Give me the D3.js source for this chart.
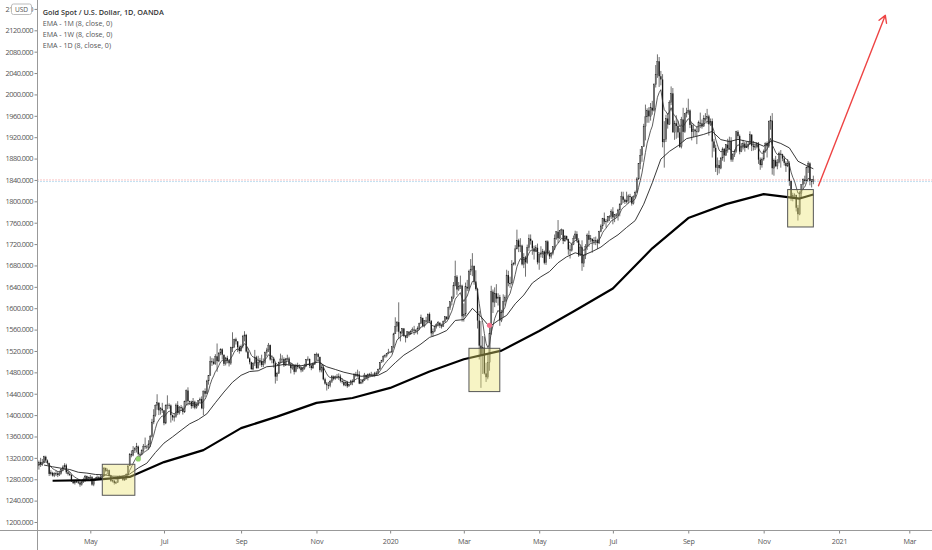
<!DOCTYPE html>
<html>
<head>
<meta charset="utf-8">
<script src="https://cdn.jsdelivr.net/npm/d3@7"></script>
<style>
  html, body { margin: 0; padding: 0; background: #fff; }
  svg { display: block; font-family: "Open Sans", sans-serif; }
</style>
</head>
<body>
<div id="chart"></div>
<script>
// daily XAUUSD candles, one value per weekday starting 2019-03-19
const startDate = "2019-03-19";
const axisEndDate = "2021-03-31";

const opens = [
  1302,1306,1312,1308, 1312,1322,1315,1310,1290,
  1292,1287,1291,1291,1288, 1291,1298,1303,1306,1293,
  1290,1288,1276,1273,1276, 1275,1274,1270,1275,1280,
  1286,1280,1283,1284,1270, 1280,1281,1284,1281,1284,
  1286,1301,1296,1297,1286, 1277,1277,1273,1274,1283,
  1284,1285,1279,1280,1289, 1305,1327,1325,1334,1337,
  1341,1327,1326,1334,1342, 1341,1340,1346,1360,1387,
  1400,1418,1423,1409,1412, 1409,1385,1418,1419,1418,
  1400,1396,1397,1419,1404, 1415,1413,1406,1426,1446,
  1426,1425,1417,1425,1414, 1419,1427,1430,1413,1445,
  1440,1464,1474,1500,1500, 1496,1510,1501,1516,1523,
  1513,1496,1507,1502,1497, 1526,1527,1542,1538,1527,
  1520,1529,1547,1550,1519, 1506,1499,1486,1497,1508,
  1488,1498,1501,1494,1498, 1517,1522,1531,1504,1505,
  1497,1472,1478,1499,1505, 1505,1493,1505,1506,1495,
  1488,1493,1481,1492,1490, 1489,1484,1487,1492,1504,
  1505,1492,1488,1495,1513, 1514,1509,1484,1490,1467,
  1459,1456,1455,1463,1472, 1468,1472,1471,1472,1464,
  1462,1456,1462,1454,1457, 1464,1462,1477,1474,1476,
  1459,1462,1465,1475,1470, 1476,1476,1476,1475,1479,
  1478,1486,1499,1503,1510, 1511,1515,1517,1518,1528,
  1552,1566,1574,1556,1553, 1562,1548,1545,1556,1552,
  1557,1560,1558,1558,1562, 1571,1582,1567,1577,1575,
  1589,1576,1553,1557,1566, 1570,1573,1568,1566,1575,
  1584,1580,1601,1612,1620, 1643,1659,1635,1640,1642,
  1585,1589,1640,1637,1669, 1673,1679,1650,1636,1577,
  1530,1512,1526,1478,1471, 1499,1553,1631,1611,1628,
  1618,1621,1577,1592,1612, 1620,1662,1647,1647,1682,
  1684,1711,1727,1715,1717, 1682,1695,1686,1713,1730,
  1726,1712,1706,1713,1686, 1700,1702,1706,1685,1725,
  1702,1697,1702,1715,1731, 1743,1731,1745,1747,1726,
  1735,1729,1710,1708,1719, 1730,1739,1727,1699,1714,
  1684,1698,1715,1737,1728, 1730,1725,1727,1727,1722,
  1743,1754,1768,1762,1763, 1771,1772,1781,1770,1775,
  1774,1784,1795,1809,1803, 1799,1802,1810,1808,1796,
  1809,1817,1842,1871,1886, 1902,1940,1958,1970,1959,
  1975,1970,2018,2037,2062, 2034,2028,1911,1916,1955,
  1944,1985,2002,1929,1946, 1941,1929,1902,1953,1930,
  1964,1967,1970,1943,1930, 1934,1931,1930,1947,1946,
  1940,1955,1955,1959,1944, 1950,1912,1900,1863,1868,
  1862,1881,1898,1886,1906, 1899,1913,1878,1887,1894,
  1930,1922,1893,1901,1908, 1900,1903,1907,1925,1904,
  1902,1902,1908,1878,1868, 1879,1894,1909,1903,1949,
  1951,1862,1877,1866,1873, 1889,1888,1880,1872,1866,
  1871,1838,1806,1811,1812, 1788,1776,1815,1831,1841,
  1838,1863,1871,1838,1837
];

const highs = [
  1310,1315,1320,1318, 1324,1324,1317,1311,1297,
  1294,1293,1296,1295,1296, 1301,1306,1310,1309,1297,
  1293,1289,1278,1278,1277, 1277,1276,1277,1283,1288,
  1287,1285,1288,1286,1282, 1284,1287,1286,1288,1288,
  1303,1302,1300,1298,1288, 1279,1279,1277,1286,1287,
  1287,1287,1283,1291,1306, 1329,1334,1342,1340,1348,
  1343,1330,1336,1346,1358, 1344,1353,1363,1393,1411,
  1420,1439,1424,1415,1423, 1409,1420,1437,1422,1420,
  1401,1403,1422,1426,1417, 1419,1416,1427,1448,1452,
  1427,1427,1432,1427,1424, 1428,1433,1435,1446,1450,
  1466,1475,1510,1507,1506, 1514,1534,1518,1525,1525,
  1513,1509,1511,1505,1528, 1555,1543,1545,1538,1530,
  1532,1550,1557,1552,1526, 1508,1500,1499,1522,1511,
  1511,1507,1513,1506,1519, 1526,1535,1532,1512,1509,
  1498,1481,1500,1515,1512, 1508,1507,1513,1509,1499,
  1496,1495,1496,1498,1495, 1490,1489,1496,1505,1510,
  1506,1496,1499,1515,1517, 1516,1509,1494,1494,1470,
  1462,1462,1466,1475,1474, 1474,1477,1478,1476,1469,
  1466,1463,1464,1459,1466, 1467,1478,1481,1485,1482,
  1465,1467,1479,1476,1478, 1479,1481,1478,1481,1482,
  1487,1499,1503,1512,1514, 1516,1524,1520,1529,1554,
  1583,1576,1611,1557,1563, 1563,1550,1557,1557,1559,
  1564,1567,1561,1566,1573, 1588,1582,1578,1584,1590,
  1592,1578,1562,1567,1572, 1576,1573,1571,1577,1585,
  1585,1603,1612,1623,1649, 1689,1662,1649,1661,1644,
  1609,1648,1653,1672,1692, 1703,1680,1671,1638,1595,
  1576,1548,1547,1498,1515, 1567,1642,1635,1639,1645,
  1628,1625,1597,1626,1624, 1672,1670,1659,1690,1686,
  1718,1747,1730,1731,1719, 1703,1698,1719,1738,1738,
  1727,1717,1718,1721,1702, 1716,1711,1708,1727,1727,
  1708,1705,1716,1738,1744, 1765,1746,1749,1747,1737,
  1736,1730,1719,1721,1736, 1745,1744,1731,1717,1727,
  1700,1720,1740,1745,1737, 1730,1733,1734,1730,1745,
  1757,1769,1779,1767,1772, 1774,1785,1789,1776,1778,
  1786,1796,1818,1818,1805, 1818,1813,1814,1809,1811,
  1820,1845,1871,1898,1903, 1945,1981,1974,1976,1984,
  1988,2021,2055,2075,2070, 2044,2038,1950,1962,1965,
  1989,2015,2012,1951,1961, 1951,1937,1958,1975,1965,
  1975,1992,1972,1947,1945, 1936,1941,1951,1966,1953,
  1961,1965,1973,1962,1955, 1955,1917,1906,1882,1877,
  1883,1901,1900,1907,1917, 1921,1920,1890,1897,1932,
  1933,1925,1909,1915,1911, 1912,1911,1931,1918,1913,
  1910,1911,1911,1882,1882, 1897,1910,1912,1951,1960,
  1965,1880,1885,1879,1893, 1896,1889,1885,1875,1879,
  1875,1839,1816,1815,1812, 1793,1819,1832,1843,1848,
  1865,1875,1873,1841,1848
];

const lows = [
  1301,1298,1303,1305, 1310,1313,1307,1286,1287,
  1285,1284,1286,1284,1286, 1289,1295,1301,1290,1287,
  1286,1275,1271,1270,1273, 1271,1266,1268,1273,1275,
  1278,1279,1280,1268,1267, 1277,1279,1279,1280,1282,
  1285,1293,1292,1285,1275, 1274,1270,1271,1273,1280,
  1282,1277,1277,1279,1287, 1305,1321,1323,1329,1330,
  1324,1320,1325,1330,1337, 1336,1335,1340,1358,1383,
  1397,1410,1400,1401,1404, 1381,1383,1411,1412,1386,
  1390,1388,1395,1400,1401, 1408,1401,1404,1418,1418,
  1419,1412,1413,1411,1412, 1417,1423,1411,1400,1434,
  1440,1457,1474,1492,1494, 1494,1481,1499,1512,1504,
  1492,1493,1497,1491,1494, 1518,1527,1532,1518,1515,
  1519,1525,1538,1517,1506, 1495,1485,1484,1492,1487,
  1488,1493,1490,1490,1495, 1510,1518,1502,1497,1489,
  1459,1464,1477,1497,1499, 1490,1492,1502,1492,1478,
  1485,1476,1480,1486,1486, 1480,1481,1485,1490,1501,
  1488,1484,1487,1494,1502, 1503,1480,1480,1465,1457,
  1446,1449,1452,1460,1465, 1466,1468,1466,1461,1459,
  1454,1454,1451,1454,1456, 1456,1461,1471,1471,1458,
  1458,1459,1464,1467,1465, 1472,1474,1472,1471,1474,
  1477,1485,1498,1499,1507, 1508,1514,1516,1516,1525,
  1552,1556,1542,1538,1549, 1546,1536,1544,1547,1550,
  1556,1550,1553,1551,1559, 1571,1565,1564,1571,1572,
  1572,1548,1547,1555,1562, 1566,1563,1562,1565,1573,
  1578,1579,1597,1605,1617, 1641,1625,1632,1636,1575,
  1575,1585,1632,1632,1662, 1660,1644,1633,1562,1504,
  1451,1477,1476,1462,1467, 1483,1550,1591,1602,1610,
  1605,1567,1574,1583,1605, 1613,1641,1638,1644,1680,
  1680,1710,1705,1705,1680, 1675,1659,1683,1707,1719,
  1700,1691,1705,1682,1672, 1695,1694,1682,1681,1699,
  1692,1693,1699,1709,1728, 1722,1729,1737,1720,1724,
  1727,1700,1693,1706,1718, 1729,1723,1696,1698,1670,
  1677,1692,1709,1715,1723, 1704,1719,1718,1711,1720,
  1742,1748,1757,1751,1760, 1763,1767,1757,1761,1769,
  1764,1772,1793,1797,1795, 1796,1796,1800,1792,1794,
  1806,1816,1840,1860,1874, 1902,1914,1947,1947,1951,
  1962,1968,2013,2031,2014, 2017,1901,1863,1911,1936,
  1943,1980,1929,1915,1917, 1919,1900,1899,1912,1928,
  1957,1962,1937,1914,1920, 1922,1907,1929,1937,1936,
  1940,1949,1945,1923,1941, 1882,1893,1855,1849,1852,
  1860,1876,1874,1885,1891, 1896,1874,1874,1883,1891,
  1917,1888,1892,1897,1893, 1900,1897,1906,1894,1895,
  1896,1899,1870,1859,1863, 1876,1891,1882,1900,1934,
  1850,1848,1864,1860,1871, 1863,1875,1867,1855,1864,
  1829,1801,1800,1808,1781, 1764,1774,1807,1822,1832,
  1838,1853,1830,1826,1832
];

const closes = [
  1306,1312,1308,1312, 1322,1315,1310,1290,1292,
  1287,1291,1291,1288,1291, 1298,1303,1306,1293,1290,
  1288,1276,1273,1276,1275, 1274,1270,1275,1280,1286,
  1280,1283,1284,1270,1280, 1281,1284,1281,1284,1286,
  1301,1296,1297,1286,1277, 1277,1273,1274,1283,1284,
  1285,1279,1280,1289,1305, 1327,1325,1334,1337,1341,
  1327,1326,1334,1342,1341, 1340,1346,1360,1387,1400,
  1418,1423,1409,1412,1409, 1385,1418,1419,1418,1400,
  1396,1397,1419,1404,1415, 1413,1406,1426,1446,1426,
  1425,1417,1425,1414,1419, 1427,1430,1413,1445,1440,
  1464,1474,1500,1500,1496, 1510,1501,1516,1523,1513,
  1496,1507,1502,1497,1526, 1527,1542,1538,1527,1520,
  1529,1547,1550,1519,1506, 1499,1486,1497,1508,1488,
  1498,1501,1494,1498,1517, 1522,1531,1504,1505,1497,
  1472,1478,1499,1505,1505, 1493,1505,1506,1495,1488,
  1493,1481,1492,1490,1489, 1484,1487,1492,1504,1505,
  1492,1488,1495,1513,1514, 1509,1484,1490,1467,1459,
  1456,1455,1463,1472,1468, 1472,1471,1472,1464,1462,
  1456,1462,1454,1457,1464, 1462,1477,1474,1476,1459,
  1462,1465,1475,1470,1476, 1476,1476,1475,1479,1478,
  1486,1499,1503,1510,1511, 1515,1517,1518,1528,1552,
  1566,1574,1556,1553,1562, 1548,1545,1556,1552,1557,
  1560,1558,1558,1562,1571, 1582,1567,1577,1575,1589,
  1576,1553,1557,1566,1570, 1573,1568,1566,1575,1584,
  1580,1601,1612,1620,1643, 1659,1635,1640,1642,1585,
  1589,1640,1637,1669,1673, 1679,1650,1636,1577,1530,
  1512,1526,1478,1471,1499, 1553,1631,1611,1628,1618,
  1621,1577,1592,1612,1620, 1662,1647,1647,1682,1684,
  1711,1727,1715,1717,1682, 1695,1686,1713,1730,1726,
  1712,1706,1713,1686,1700, 1702,1706,1685,1725,1702,
  1697,1702,1715,1731,1743, 1731,1745,1747,1726,1735,
  1729,1710,1708,1719,1730, 1739,1727,1699,1714,1684,
  1698,1715,1737,1728,1730, 1725,1727,1727,1722,1743,
  1754,1768,1762,1763,1771, 1772,1781,1770,1775,1774,
  1784,1795,1809,1803,1799, 1802,1810,1808,1796,1809,
  1817,1842,1871,1886,1902, 1940,1958,1970,1959,1975,
  1970,2018,2037,2062,2034, 2028,1911,1916,1955,1944,
  1985,2002,1929,1946,1941, 1929,1902,1953,1930,1964,
  1967,1970,1943,1930,1934, 1931,1930,1947,1946,1940,
  1955,1955,1959,1944,1950, 1912,1900,1863,1868,1862,
  1881,1898,1886,1906,1899, 1913,1878,1887,1894,1930,
  1922,1893,1901,1908,1900, 1903,1907,1925,1904,1902,
  1902,1908,1878,1868,1879, 1894,1909,1903,1949,1951,
  1862,1877,1866,1873,1889, 1888,1880,1872,1866,1871,
  1838,1806,1811,1812,1788, 1776,1815,1831,1841,1838,
  1863,1871,1838,1837,1840
];

// EMA settings and the values carried in from before the first bar
const emaLength = 8;
const seedWeekly = 1305;
const seedMonthly = 1273;

const priceTicks = [1200,1240,1280,1320,1360,1400,1440,1480,1520,1560,1600,1640,
                    1680,1720,1760,1800,1840,1880,1920,1960,2000,2040,2080,2120,2160];

const legendTitle = "Gold Spot / U.S. Dollar, 1D, OANDA";
const legendLines = ["EMA - 1M (8, close, 0)", "EMA - 1W (8, close, 0)", "EMA - 1D (8, close, 0)"];

// drawings on the chart
const boxStart  = ["2019-05-10", "2020-03-05", "2020-11-20"];
const boxEnd    = ["2019-06-06", "2020-03-31", "2020-12-11"];
const boxTop    = [1308, 1525, 1822];
const boxBottom = [1250, 1444, 1752];

const markerDates  = ["2019-06-10", "2020-03-23"];
const markerValues = [1318, 1568];
const markerColors = ["#8fd46a", "#f2708a"];

const arrowDates  = ["2020-12-16", "2021-02-09"];
const arrowValues = [1829, 2148];

const width = 932, height = 550;
const plotLeft = 37.5, axisY = 530.5;

const parse = d3.timeParse("%Y-%m-%d");
const key = d3.timeFormat("%Y-%m-%d");

// trading calendar: weekdays only, extended into the future for the time axis
const calendar = d3.timeDay.range(parse(startDate), d3.timeDay.offset(parse(axisEndDate), 1))
  .filter(d => d.getDay() !== 0 && d.getDay() !== 6);
const indexOf = new Map(calendar.map((d, i) => [key(d), i]));
const n = closes.length;
const dates = calendar.slice(0, n);

const xScale = d3.scaleLinear()
  .domain([indexOf.get("2019-05-01"), indexOf.get("2021-03-01")])
  .range([90.3, 909.3]);

const yScale = d3.scaleLinear()
  .domain([1200, 2120])
  .range([522, 30.3]);

const svg = d3.select("#chart")
  .append("svg")
  .attr("width", width)
  .attr("height", height);

svg.append("defs").append("clipPath").attr("id", "plot-clip")
  .append("rect")
  .attr("x", plotLeft + 0.5).attr("y", 0)
  .attr("width", width - plotLeft).attr("height", axisY);

const plot = svg.append("g").attr("clip-path", "url(#plot-clip)");

// price lines: last close (red) and previous close (blue)
const lastClose = closes[n - 1];
const prevClose = closes[n - 2];
plot.append("line")
  .attr("x1", plotLeft).attr("x2", width)
  .attr("y1", yScale(lastClose)).attr("y2", yScale(lastClose))
  .attr("stroke", "#f28a8a").attr("stroke-width", 1).attr("stroke-dasharray", "1,2");
plot.append("line")
  .attr("x1", plotLeft).attr("x2", width)
  .attr("y1", yScale(prevClose)).attr("y2", yScale(prevClose))
  .attr("stroke", "#86c2e4").attr("stroke-width", 1).attr("stroke-dasharray", "1,2");

// candles
const step = xScale(1) - xScale(0);
const bodyW = Math.max(1, step * 0.75);
const bars = d3.range(n);

plot.append("g")
  .selectAll("line")
  .data(bars)
  .join("line")
  .attr("x1", i => xScale(i)).attr("x2", i => xScale(i))
  .attr("y1", i => yScale(Math.max(highs[i], opens[i], closes[i])))
  .attr("y2", i => yScale(Math.min(lows[i], opens[i], closes[i])))
  .attr("stroke", "#333")
  .attr("stroke-width", 0.7);

plot.append("g")
  .selectAll("rect")
  .data(bars)
  .join("rect")
  .attr("x", i => xScale(i) - bodyW / 2)
  .attr("width", bodyW)
  .attr("y", i => yScale(Math.max(opens[i], closes[i])))
  .attr("height", i => Math.max(0.8, Math.abs(yScale(opens[i]) - yScale(closes[i]))))
  .attr("fill", i => closes[i] >= opens[i] ? "#7a7a7a" : "#151515")
  .attr("stroke", i => closes[i] >= opens[i] ? "#2a2a2a" : "none")
  .attr("stroke-width", 0.3);

// EMA on the chart's own timeframe
function emaSeries(values, len, seed) {
  const k = 2 / (len + 1);
  let e = seed;
  return values.map(v => (e = e + k * (v - e)));
}

// EMA on a higher timeframe: one point at the first bar of every period,
// plus the running value on the last bar
function periodEma(floorFn, seed) {
  const k = 2 / (emaLength + 1);
  const pts = [];
  let e = seed;
  for (let i = 0; i < n; i++) {
    if (i > 0 && +floorFn(dates[i]) !== +floorFn(dates[i - 1])) pts.push({ i, v: e });
    const closesPeriod = i === n - 1 || +floorFn(dates[i + 1]) !== +floorFn(dates[i]);
    if (closesPeriod) e = e + k * (closes[i] - e);
  }
  pts.push({ i: n - 1, v: e });
  return pts;
}

const emaDaily = emaSeries(closes, emaLength, closes[0]);
const emaWeekly = periodEma(d3.timeMonday.floor, seedWeekly);
const emaMonthly = periodEma(d3.timeMonth.floor, seedMonthly);

const line = d3.line().x(d => xScale(d.i)).y(d => yScale(d.v));

plot.append("path")
  .attr("d", line(emaDaily.map((v, i) => ({ i, v }))))
  .attr("fill", "none").attr("stroke", "#333").attr("stroke-width", 0.8);

plot.append("path")
  .attr("d", line(emaWeekly))
  .attr("fill", "none").attr("stroke", "#222").attr("stroke-width", 0.9);

plot.append("path")
  .attr("d", line(emaMonthly))
  .attr("fill", "none").attr("stroke", "#000").attr("stroke-width", 2.2)
  .attr("stroke-linejoin", "round");

// highlight boxes
plot.append("g")
  .selectAll("rect")
  .data(d3.range(boxStart.length))
  .join("rect")
  .attr("x", j => xScale(indexOf.get(boxStart[j])))
  .attr("y", j => yScale(boxTop[j]))
  .attr("width", j => xScale(indexOf.get(boxEnd[j])) - xScale(indexOf.get(boxStart[j])))
  .attr("height", j => yScale(boxBottom[j]) - yScale(boxTop[j]))
  .attr("fill", "rgba(236,228,110,0.4)")
  .attr("stroke", "#555")
  .attr("stroke-width", 1);

// markers
plot.append("g")
  .selectAll("circle")
  .data(d3.range(markerDates.length))
  .join("circle")
  .attr("cx", j => xScale(indexOf.get(markerDates[j])))
  .attr("cy", j => yScale(markerValues[j]))
  .attr("r", 2.6)
  .attr("fill", j => markerColors[j]);

// projection arrow
const ax1 = xScale(indexOf.get(arrowDates[0])), ay1 = yScale(arrowValues[0]);
const ax2 = xScale(indexOf.get(arrowDates[1])), ay2 = yScale(arrowValues[1]);
const ang = Math.atan2(ay2 - ay1, ax2 - ax1);
const headLen = 8, headAng = Math.PI / 6;
const arrowPath = d3.path();
arrowPath.moveTo(ax1, ay1);
arrowPath.lineTo(ax2, ay2);
arrowPath.moveTo(ax2 - headLen * Math.cos(ang - headAng), ay2 - headLen * Math.sin(ang - headAng));
arrowPath.lineTo(ax2, ay2);
arrowPath.lineTo(ax2 - headLen * Math.cos(ang + headAng), ay2 - headLen * Math.sin(ang + headAng));
plot.append("path")
  .attr("d", arrowPath.toString())
  .attr("fill", "none")
  .attr("stroke", "#ee4444")
  .attr("stroke-width", 1.4)
  .attr("stroke-linecap", "round")
  .attr("stroke-linejoin", "round");

// time axis: first trading day of every other month
const monthTicks = calendar
  .map((d, i) => i)
  .filter(i => i > 0 && calendar[i].getMonth() !== calendar[i - 1].getMonth() && calendar[i].getMonth() % 2 === 0);
const monthFmt = d3.timeFormat("%b");

const xAxis = d3.axisBottom(xScale)
  .tickValues(monthTicks)
  .tickFormat(i => calendar[i].getMonth() === 0 ? String(calendar[i].getFullYear()) : monthFmt(calendar[i]))
  .tickSize(3)
  .tickPadding(5);

svg.append("g")
  .attr("transform", `translate(0,${axisY})`)
  .call(xAxis)
  .call(g => g.select(".domain").remove())
  .call(g => g.selectAll("line").attr("stroke", "#888"))
  .call(g => g.selectAll("text")
    .attr("fill", "#555").attr("font-size", 7.2).attr("font-family", "Open Sans")
    .style("letter-spacing", "-0.2px"));

const yAxis = d3.axisLeft(yScale)
  .tickValues(priceTicks)
  .tickFormat(d3.format(".3f"))
  .tickSize(3)
  .tickPadding(1.5);

svg.append("g")
  .attr("transform", `translate(${plotLeft},0)`)
  .call(yAxis)
  .call(g => g.select(".domain").remove())
  .call(g => g.selectAll("line").attr("stroke", "#888"))
  .call(g => g.selectAll("text")
    .attr("fill", "#555").attr("font-size", 7.4).attr("font-family", "Open Sans")
    .style("letter-spacing", "-0.5px"));

// axis lines
svg.append("line")
  .attr("x1", plotLeft).attr("x2", plotLeft).attr("y1", 0).attr("y2", height)
  .attr("stroke", "#999").attr("stroke-width", 1);
svg.append("line")
  .attr("x1", 0).attr("x2", width).attr("y1", axisY).attr("y2", axisY)
  .attr("stroke", "#999").attr("stroke-width", 1);

// currency badge
const badge = svg.append("g");
badge.append("rect")
  .attr("x", 11.5).attr("y", 4).attr("width", 20).attr("height", 10.5).attr("rx", 2)
  .attr("fill", "#fff").attr("stroke", "#bbb");
badge.append("text")
  .attr("x", 21.5).attr("y", 11.8)
  .attr("text-anchor", "middle")
  .attr("font-size", 6.6).attr("fill", "#555")
  .text("USD");

// legend
const legend = svg.append("g").attr("transform", "translate(42.7,0)");
legend.append("text")
  .attr("y", 14.6)
  .attr("font-size", 7.3).attr("font-weight", 600).attr("fill", "#333")
  .text(legendTitle);
legend.selectAll("text.ema")
  .data(legendLines)
  .join("text")
  .attr("class", "ema")
  .attr("y", (d, j) => 25.8 + j * 11)
  .attr("font-size", 7.1).attr("fill", "#555")
  .text(d => d);
</script>
</body>
</html>
